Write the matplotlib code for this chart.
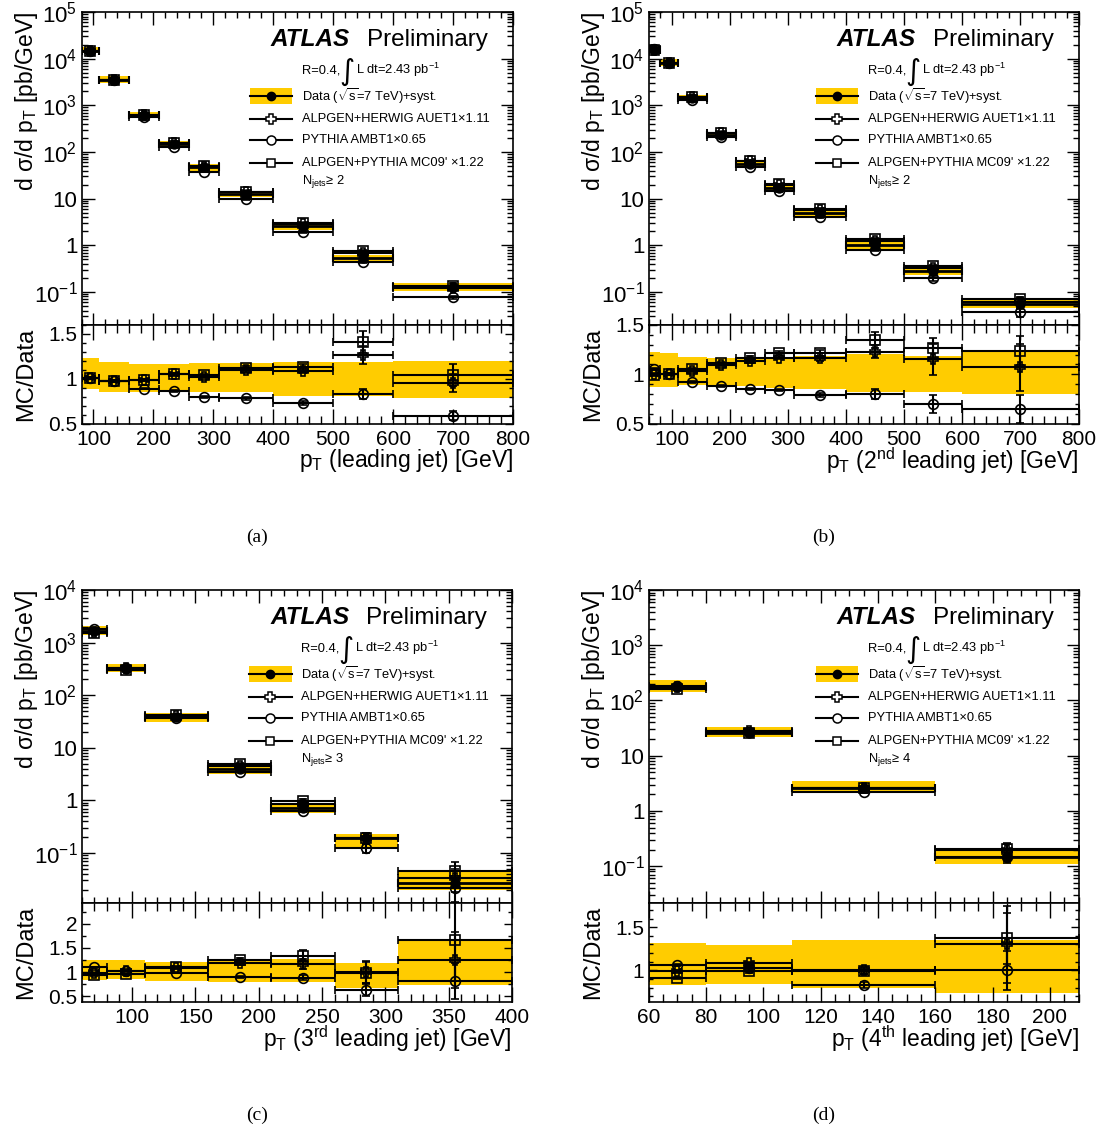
import matplotlib
matplotlib.use("Agg")
import matplotlib.pyplot as plt
from matplotlib.ticker import LogLocator, FuncFormatter, MultipleLocator, NullFormatter, FormatStrFormatter
from matplotlib.patches import Rectangle
from matplotlib.lines import Line2D
import numpy as np

plt.rcParams['font.family'] = ['Liberation Sans', 'DejaVu Sans']
plt.rcParams['mathtext.fontset'] = 'custom'
plt.rcParams['mathtext.rm'] = 'Liberation Sans'
plt.rcParams['mathtext.it'] = 'Liberation Sans:italic'
plt.rcParams['mathtext.bf'] = 'Liberation Sans:bold'
plt.rcParams['mathtext.default'] = 'regular'

YELLOW = '#ffcc00'

# ---------------- (a) leading jet, Njets >= 2
a_edges = [80, 110, 160, 210, 260, 310, 400, 500, 600, 800]
a_data = [1.46e4, 3500, 620, 149, 47, 12.5, 2.65, 0.53, 0.131]
a_syst_lo = [0.89, 0.85, 0.85, 0.85, 0.85, 0.85, 0.81, 0.81, 0.79]
a_syst_hi = [1.23, 1.185, 1.17, 1.17, 1.175, 1.175, 1.185, 1.185, 1.2]
a_herwig = [1.01, 0.975, 0.99, 1.05, 1.02, 1.10, 1.09, 1.27, 0.95]
a_herwig_err = [0.01, 0.01, 0.01, 0.01, 0.015, 0.02, 0.03, 0.1, 0.1]
a_pythia = [1.01, 0.975, 0.89, 0.86, 0.80, 0.78, 0.73, 0.83, 0.585]
a_pythia_err = [0.01, 0.01, 0.01, 0.01, 0.01, 0.015, 0.02, 0.06, 0.05]
a_mc09 = [1.01, 0.975, 0.99, 1.05, 1.04, 1.12, 1.13, 1.41, 1.04]
a_mc09_err = [0.01, 0.01, 0.01, 0.015, 0.015, 0.02, 0.03, 0.12, 0.12]

# ---------------- (b) 2nd leading jet, Njets >= 2
b_edges = [60, 80, 110, 160, 210, 260, 310, 400, 500, 600, 800]
b_data = [1.56e4, 8070, 1435, 235, 56, 17, 5.0, 1.0, 0.28, 0.056]
b_syst_lo = [0.87, 0.875, 0.89, 0.89, 0.885, 0.86, 0.85, 0.815, 0.82, 0.80]
b_syst_hi = [1.225, 1.215, 1.18, 1.165, 1.17, 1.17, 1.19, 1.21, 1.19, 1.24]
b_herwig = [1.0, 1.0, 1.03, 1.09, 1.13, 1.17, 1.16, 1.23, 1.15, 1.07]
b_herwig_err = [0.01, 0.01, 0.01, 0.01, 0.015, 0.02, 0.03, 0.07, 0.16, 0.24]
b_pythia = [1.05, 1.0, 0.925, 0.885, 0.85, 0.84, 0.79, 0.80, 0.70, 0.65]
b_pythia_err = [0.01, 0.01, 0.01, 0.01, 0.01, 0.01, 0.02, 0.05, 0.09, 0.14]
b_mc09 = [0.99, 1.0, 1.05, 1.11, 1.17, 1.22, 1.22, 1.35, 1.27, 1.24]
b_mc09_err = [0.01, 0.01, 0.01, 0.015, 0.015, 0.02, 0.03, 0.08, 0.1, 0.15]

# ---------------- (c) 3rd leading jet, Njets >= 3
c_edges = [60, 80, 110, 160, 210, 260, 310, 400]
c_data = [1670, 318, 38, 3.9, 0.72, 0.195, 0.027]
c_syst_lo = [0.83, 0.85, 0.81, 0.80, 0.80, 0.66, 0.73]
c_syst_hi = [1.25, 1.24, 1.20, 1.25, 1.26, 1.18, 1.66]
c_herwig = [0.97, 1.03, 1.08, 1.18, 1.17, 1.0, 1.25]
c_herwig_err = [0.01, 0.01, 0.02, 0.04, 0.1, 0.23, 0.58]
c_pythia = [1.10, 1.02, 0.98, 0.90, 0.88, 0.63, 0.81]
c_pythia_err = [0.01, 0.01, 0.01, 0.02, 0.05, 0.12, 0.37]
c_mc09 = [0.93, 0.95, 1.10, 1.25, 1.34, 0.99, 1.66]
c_mc09_err = [0.01, 0.01, 0.02, 0.04, 0.12, 0.22, 0.85]

# ---------------- (d) 4th leading jet, Njets >= 4
d_edges = [60, 80, 110, 160, 210]
d_data = [175, 25.9, 2.6, 0.148]
d_syst_lo = [0.83, 0.84, 0.80, 0.74]
d_syst_hi = [1.32, 1.29, 1.35, 1.35]
d_herwig = [0.99, 1.08, 1.0, 1.30]
d_herwig_err = [0.01, 0.02, 0.04, 0.45]
d_pythia = [1.06, 1.03, 0.83, 1.0]
d_pythia_err = [0.01, 0.02, 0.03, 0.23]
d_mc09 = [0.91, 0.99, 0.99, 1.37]
d_mc09_err = [0.01, 0.02, 0.03, 0.3]

W, H = 1106, 1135
fig = plt.figure(figsize=(W / 100, H / 100), dpi=100)

MC_STYLE = [
    ('ALPGEN+HERWIG AUET1×1.11', 'P', 7.5),
    ('PYTHIA AMBT1×0.65', 'o', 7),
    ("ALPGEN+PYTHIA MC09' ×1.22", 's', 6.5),
]


def log_label(v, pos):
    n = int(round(np.log10(v)))
    if n == 0:
        return '1'
    if n == 1:
        return '10'
    return '$10^{%d}$' % n


def style_axis(ax, xmaj, xmin, ymaj=None, ymin=None, major_len=9, minor_len=4.5, xlen=None):
    ax.tick_params(which='both', direction='in', top=True, right=True)
    ax.tick_params(which='major', length=major_len, width=1)
    ax.tick_params(which='minor', length=minor_len, width=1)
    if xlen is not None:
        ax.tick_params(axis='x', which='major', length=xlen)
        ax.tick_params(axis='x', which='minor', length=xlen / 2)
    ax.xaxis.set_major_locator(MultipleLocator(xmaj))
    ax.xaxis.set_minor_locator(MultipleLocator(xmin))
    if ymaj is not None:
        ax.yaxis.set_major_locator(MultipleLocator(ymaj))
        ax.yaxis.set_minor_locator(MultipleLocator(ymin))
    for s in ax.spines.values():
        s.set_linewidth(1.2)


def draw_panel(left, top, width, edges, data, lo, hi, mcs, xlim, ylim, rlim,
               xmaj, xmin, rmaj, rmin, xlabel, njets, tag):
    edges = np.array(edges, float)
    data = np.array(data, float)
    lo = np.array(lo)
    hi = np.array(hi)
    cen = 0.5 * (edges[1:] + edges[:-1])
    half = 0.5 * np.diff(edges)

    main_h, ratio_h = 313, 98.5
    ax = fig.add_axes([left / W, 1 - (top + main_h) / H, width / W, main_h / H])
    rx = fig.add_axes([left / W, 1 - (top + main_h + ratio_h) / H, width / W, ratio_h / H])

    # main panel
    ax.bar(edges[:-1], data * (hi - lo), bottom=data * lo, width=np.diff(edges),
           align='edge', color=YELLOW, lw=0, zorder=1)
    for (name, mk, ms), (r, e) in zip(MC_STYLE, mcs):
        r = np.array(r)
        e = np.array(e)
        ax.errorbar(cen, data * r, xerr=half, yerr=data * e, fmt=mk, ms=ms,
                    mfc='none', mec='k', mew=1.2, color='k', elinewidth=1.5,
                    capsize=3, capthick=1.5, zorder=3)
    ax.errorbar(cen, data, xerr=half, fmt='o', ms=6.5, color='k', elinewidth=2,
                capsize=3, capthick=1.5, zorder=4)
    ax.set_yscale('log')
    ax.set_xlim(xlim)
    ax.set_ylim(ylim)
    style_axis(ax, xmaj, xmin)
    ax.yaxis.set_major_locator(LogLocator(base=10, numticks=20))
    ax.yaxis.set_minor_locator(LogLocator(base=10, subs=np.arange(2, 10), numticks=20))
    ax.yaxis.set_major_formatter(FuncFormatter(log_label))
    ax.yaxis.set_minor_formatter(NullFormatter())
    ax.tick_params(axis='y', labelsize=16, pad=3)
    ax.tick_params(axis='x', labelbottom=False)

    # ratio panel
    rx.bar(edges[:-1], hi - lo, bottom=lo, width=np.diff(edges), align='edge',
           color=YELLOW, lw=0, zorder=1)
    for (name, mk, ms), (r, e) in zip(MC_STYLE, mcs):
        rx.errorbar(cen, r, xerr=half, yerr=e, fmt=mk, ms=ms, mfc='none', mec='k',
                    mew=1.2, color='k', elinewidth=1.5, capsize=3, capthick=1.5, zorder=3)
    rx.set_xlim(xlim)
    rx.set_ylim(rlim)
    style_axis(rx, xmaj, xmin, rmaj, rmin, major_len=6, minor_len=3, xlen=11)
    rx.yaxis.set_major_formatter(FormatStrFormatter('%g'))
    rx.tick_params(axis='both', labelsize=15)
    rx.tick_params(axis='x', pad=5)
    rx.tick_params(axis='y', pad=3)

    # axis titles
    fig.text((left - 55) / W, 1 - top / H, 'd σ/d p$_{T}$ [pb/GeV]', rotation=90,
             ha='center', va='top', fontsize=16.5)
    fig.text((left - 55) / W, 1 - (top + main_h + ratio_h / 2) / H, 'MC/Data',
             rotation=90, ha='center', va='center', fontsize=17)
    fig.text((left + width) / W, 1 - (top + main_h + ratio_h + 37) / H, xlabel,
             ha='right', va='center', fontsize=16.5)
    fig.text((left + width / 2 - 40) / W, 1 - (top + 525) / H, tag, ha='center',
             va='center', fontsize=14, family='Liberation Serif')

    # ATLAS label and legend
    t = ax.transAxes
    ax.text(0.622, 0.912, 'ATLAS', transform=t, ha='right', va='center',
            fontsize=17.5, fontweight='bold', style='italic')
    ax.text(0.942, 0.912, 'Preliminary', transform=t, ha='right', va='center',
            fontsize=17.5)
    ax.text(0.51, 0.814, 'R=0.4,', transform=t, ha='left', va='center', fontsize=9.3)
    ax.text(0.614, 0.81, '∫', transform=t, ha='center', va='center', fontsize=21,
            family='DejaVu Sans')
    ax.text(0.635, 0.814, 'L dt=2.43 pb$^{-1}$', transform=t, ha='left',
            va='center', fontsize=9.3)

    x0, x1 = 0.39, 0.488
    xm = 0.5 * (x0 + x1)
    ax.add_patch(Rectangle((x0, 0.731 - 0.025), x1 - x0, 0.05, transform=t,
                           color=YELLOW, lw=0, zorder=5))
    ax.add_line(Line2D([x0, x1], [0.731, 0.731], transform=t, color='k', lw=1.5, zorder=6))
    ax.add_line(Line2D([xm], [0.731], transform=t, marker='o', ms=6, color='k', zorder=7))
    ax.text(0.51, 0.731, 'Data ($\\sqrt{s}$=7 TeV)+syst.', transform=t, ha='left',
            va='center', fontsize=9.3)
    for (name, mk, ms), yy in zip(MC_STYLE, [0.659, 0.59, 0.519]):
        ax.add_line(Line2D([x0, x1], [yy, yy], transform=t, color='k', lw=1.5, zorder=6))
        ax.add_line(Line2D([xm], [yy], transform=t, marker=mk, ms=ms - 0.5,
                           mfc='white', mec='k', mew=1.1, zorder=7))
        ax.text(0.51, yy, name, transform=t, ha='left', va='center', fontsize=9.3)
    ax.text(0.51, 0.459, 'N$_{jets}$≥ %d' % njets, transform=t, ha='left',
            va='center', fontsize=9.3)
    return ax, rx


draw_panel(81.5, 12, 431.5, a_edges, a_data, a_syst_lo, a_syst_hi,
           [(a_herwig, a_herwig_err), (a_pythia, a_pythia_err), (a_mc09, a_mc09_err)],
           (80, 800), (0.0196, 1e5), (0.5, 1.6), 100, 20, 0.5, 0.1,
           'p$_{T}$ (leading jet) [GeV]', 2, '(a)')
draw_panel(648.5, 12, 430, b_edges, b_data, b_syst_lo, b_syst_hi,
           [(b_herwig, b_herwig_err), (b_pythia, b_pythia_err), (b_mc09, b_mc09_err)],
           (60, 800), (0.0196, 1e5), (0.5, 1.5), 100, 20, 0.5, 0.1,
           'p$_{T}$ (2$^{nd}$ leading jet) [GeV]', 2, '(b)')
draw_panel(81.5, 590, 430.5, c_edges, c_data, c_syst_lo, c_syst_hi,
           [(c_herwig, c_herwig_err), (c_pythia, c_pythia_err), (c_mc09, c_mc09_err)],
           (60, 400), (0.0112, 1e4), (0.39, 2.43), 50, 10, 0.5, 0.25,
           'p$_{T}$ (3$^{rd}$ leading jet) [GeV]', 3, '(c)')
draw_panel(648.5, 590, 430, d_edges, d_data, d_syst_lo, d_syst_hi,
           [(d_herwig, d_herwig_err), (d_pythia, d_pythia_err), (d_mc09, d_mc09_err)],
           (60, 210), (0.0215, 1e4), (0.64, 1.78), 20, 5, 0.5, 0.1,
           'p$_{T}$ (4$^{th}$ leading jet) [GeV]', 4, '(d)')

fig.savefig('out.png', dpi=100)
